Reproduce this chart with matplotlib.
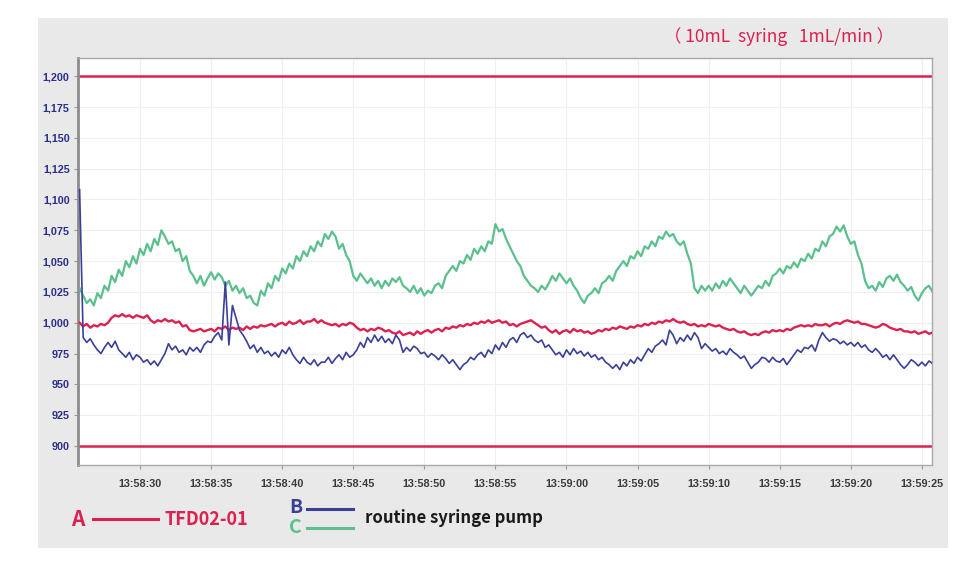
import numpy as np
import matplotlib
matplotlib.use("Agg")
import matplotlib.pyplot as plt
from matplotlib.patches import Rectangle
from matplotlib.ticker import FuncFormatter

# sample clock: seconds after 13:58:00, one reading every 0.25 s
t_start = 25.75
t_step = 0.25

# A - TFD02-01 (red)
flow_a = [1000,
    997, 999, 996, 998,   997, 999, 998, 1000,  1004, 1006, 1005, 1007,  1005, 1006, 1004, 1006,
    1005, 1004, 1006, 1002,  1000, 1002, 1001, 1003,  1001, 1002, 1000, 1001,  997, 998, 994, 993,
    994, 995, 993, 994,   995, 993, 996, 995,   997, 994, 996, 995,   996, 994, 997, 995,
    997, 996, 998, 997,   998, 999, 997, 999,   1000, 998, 1001, 999,  1000, 1002, 999, 1001,
    1001, 1003, 1000, 1002,  1000, 999, 998, 999,  997, 999, 998, 1000,  999, 996, 994, 995,
    993, 995, 994, 996,   995, 993, 994, 992,   991, 993, 990, 991,   992, 990, 993, 991,
    993, 994, 992, 994,   995, 993, 996, 995,   997, 996, 998, 997,   999, 998, 1000, 999,
    1001, 1000, 1002, 1000,  1001, 1002, 1000, 1001,  998, 999, 997, 999,  1000, 1001, 1002, 1000,
    998, 996, 997, 994,   992, 994, 991, 993,   994, 992, 995, 993,   994, 992, 993, 991,
    992, 994, 993, 995,   994, 996, 995, 997,   996, 995, 997, 996,   998, 997, 999, 998,
    1000, 999, 1001, 1000,  1002, 1001, 1003, 1001,  1000, 1001, 999, 998,  999, 997, 998, 997,
    999, 998, 997, 998,   996, 995, 994, 995,   993, 992, 993, 991,   990, 991, 990, 992,
    993, 992, 994, 993,   994, 993, 995, 994,   996, 997, 998, 997,   998, 997, 999, 998,
    998, 999, 997, 999,   1000, 999, 1001, 1002,  1001, 1000, 1001, 999,  999, 998, 997, 996,
    997, 999, 998, 996,   995, 994, 995, 993,   993, 992, 993, 991,   992, 993, 991, 992]

# B - routine syringe pump (blue)
flow_b = [1108,
    988, 984, 987, 982,   978, 975, 980, 984,   980, 985, 978, 975,   972, 976, 970, 974,
    972, 968, 970, 966,   969, 965, 970, 975,   983, 978, 981, 976,   978, 974, 980, 977,
    980, 976, 982, 985,   984, 989, 992, 986,   1033, 982, 1014, 1004,  994, 990, 985, 979,
    982, 976, 980, 975,   977, 973, 976, 972,   978, 975, 980, 974,   970, 967, 972, 968,
    966, 970, 965, 968,   968, 972, 967, 971,   974, 970, 976, 972,   974, 978, 984, 980,
    988, 984, 990, 985,   989, 984, 987, 983,   990, 986, 976, 980,   977, 981, 979, 975,
    976, 972, 975, 973,   970, 974, 971, 967,   970, 966, 962, 966,   968, 972, 970, 974,
    976, 972, 978, 975,   982, 978, 984, 980,   986, 988, 984, 990,   992, 988, 990, 986,
    984, 986, 980, 982,   978, 974, 976, 972,   978, 974, 979, 975,   977, 973, 976, 972,
    974, 970, 972, 968,   966, 963, 966, 962,   968, 965, 970, 967,   972, 969, 974, 979,
    976, 981, 983, 986,   982, 994, 990, 983,   988, 985, 990, 986,   992, 988, 979, 983,
    980, 977, 979, 975,   977, 974, 979, 976,   974, 971, 973, 968,   963, 966, 968, 972,
    971, 968, 972, 969,   968, 971, 966, 970,   974, 978, 976, 980,   979, 982, 977, 986,
    992, 988, 985, 987,   986, 983, 985, 982,   984, 981, 984, 980,   982, 978, 976, 979,
    976, 972, 974, 970,   974, 970, 966, 963,   966, 970, 968, 965,   968, 965, 969, 967]

# C - routine syringe pump (green)
flow_c = [1028,
    1022, 1016, 1019, 1014,  1024, 1020, 1030, 1026,  1038, 1033, 1043, 1038,  1050, 1045, 1054, 1048,
    1060, 1055, 1064, 1058,  1068, 1063, 1075, 1070,  1064, 1066, 1058, 1060,  1050, 1054, 1042, 1038,
    1032, 1038, 1030, 1036,  1041, 1035, 1040, 1037,  1030, 1034, 1026, 1030,  1024, 1028, 1020, 1022,
    1016, 1014, 1026, 1022,  1032, 1028, 1038, 1034,  1044, 1040, 1048, 1044,  1054, 1050, 1058, 1054,
    1062, 1058, 1066, 1062,  1072, 1068, 1074, 1070,  1060, 1064, 1055, 1050,  1038, 1034, 1040, 1036,
    1032, 1036, 1030, 1034,  1028, 1034, 1030, 1036,  1033, 1037, 1030, 1028,  1025, 1030, 1024, 1028,
    1022, 1026, 1024, 1030,  1032, 1028, 1038, 1042,  1046, 1042, 1050, 1048,  1055, 1051, 1060, 1056,
    1062, 1058, 1066, 1064,  1080, 1074, 1076, 1068,  1062, 1056, 1050, 1046,  1038, 1034, 1030, 1028,
    1025, 1030, 1027, 1032,  1038, 1034, 1040, 1036,  1032, 1036, 1030, 1026,  1020, 1016, 1022, 1024,
    1028, 1024, 1032, 1034,  1038, 1034, 1042, 1046,  1050, 1046, 1054, 1052,  1058, 1054, 1062, 1060,
    1066, 1062, 1070, 1068,  1074, 1070, 1072, 1066,  1063, 1066, 1056, 1048,  1028, 1024, 1030, 1026,
    1030, 1026, 1032, 1028,  1034, 1030, 1036, 1032,  1028, 1024, 1030, 1026,  1022, 1026, 1030, 1028,
    1034, 1030, 1038, 1040,  1044, 1040, 1046, 1044,  1049, 1045, 1052, 1050,  1056, 1052, 1060, 1058,
    1066, 1062, 1070, 1072,  1078, 1074, 1079, 1070,  1064, 1066, 1055, 1048,  1034, 1028, 1030, 1026,
    1033, 1029, 1036, 1038,  1034, 1039, 1033, 1030,  1026, 1029, 1022, 1018,  1024, 1028, 1030, 1025]

limit_lines = [1200, 900]
y_ticks = list(range(900, 1201, 25))
x_ticks = list(range(30, 86, 5))

RED = "#dc2150"
BLUE = "#3a3f98"
GREEN = "#5cc08e"

t = t_start + t_step * np.arange(len(flow_a))


def clock(sec, pos=None):
    sec = int(round(sec))
    return "13:%02d:%02d" % (58 + sec // 60, sec % 60)


fig = plt.figure(figsize=(9.78, 5.65), dpi=100)
fig.patch.set_facecolor("white")
# grey panel behind everything
fig.patches.append(Rectangle((0.0389, 0.030), 0.9305, 0.938, transform=fig.transFigure,
                             facecolor="#e9e9e9", edgecolor="none", zorder=-10))

ax = fig.add_axes([0.0798, 0.177, 0.873, 0.720])
ax.set_zorder(1)
ax.set_facecolor("white")

for lim in limit_lines:
    ax.axhline(lim, color=RED, lw=1.8, zorder=2)

ax.plot(t, flow_c, color=GREEN, lw=1.6, zorder=3)
ax.plot(t, flow_a, color=RED, lw=1.7, zorder=4)
ax.plot(t, flow_b, color=BLUE, lw=1.2, zorder=5)

ax.set_xlim(25.64, 85.7)
ax.set_ylim(884.6, 1214.6)
ax.set_xticks(x_ticks)
ax.set_yticks(y_ticks)
ax.xaxis.set_major_formatter(FuncFormatter(clock))
ax.yaxis.set_major_formatter(FuncFormatter(lambda v, p: "{:,.0f}".format(v)))
ax.grid(True, color="#efefef", lw=0.8, zorder=1)

for lab in ax.get_xticklabels():
    lab.set_fontfamily("Liberation Sans")
    lab.set_fontweight("bold")
    lab.set_color("#3a3a3a")
    lab.set_fontsize(7.8)
for lab in ax.get_yticklabels():
    lab.set_fontfamily("Liberation Sans")
    lab.set_fontweight("bold")
    lab.set_color("#2c2f8a")
    lab.set_fontsize(7.8)
ax.tick_params(axis="both", length=3, width=0.8, color="#999999", pad=3)
ax.tick_params(axis="x", pad=7)

for side in ["top", "right", "bottom"]:
    ax.spines[side].set_color("#a8a8a8")
    ax.spines[side].set_linewidth(1.0)
ax.spines["left"].set_color("#8c8c8c")
ax.spines["left"].set_linewidth(2.0)

cjk = ["Noto Sans CJK SC", "DejaVu Sans"]
fig.text(0.797, 0.935, "（ 10mL  syring   1mL/min ）", color=RED, fontsize=12.5,
         family=cjk, ha="center", va="center")

# legend drawn by hand at the bottom
fig.text(0.073, 0.081, "A", color=RED, fontsize=15, family=cjk, weight="semibold",
         ha="left", va="center")
fig.lines.append(plt.Line2D([0.095, 0.162], [0.081, 0.081], transform=fig.transFigure,
                            color=RED, lw=2.2))
fig.text(0.168, 0.081, "TFD02-01", color=RED, fontsize=13, family=cjk, weight="bold",
         ha="left", va="center")

fig.text(0.296, 0.101, "B", color=BLUE, fontsize=14, family=cjk, weight="semibold",
         ha="left", va="center")
fig.lines.append(plt.Line2D([0.314, 0.361], [0.100, 0.100], transform=fig.transFigure,
                            color=BLUE, lw=2.2))
fig.text(0.296, 0.066, "C", color=GREEN, fontsize=14, family=cjk, weight="semibold",
         ha="left", va="center")
fig.lines.append(plt.Line2D([0.314, 0.361], [0.066, 0.066], transform=fig.transFigure,
                            color=GREEN, lw=2.2))
fig.text(0.373, 0.083, "routine syringe pump", color="#1a1a1a", fontsize=12, family=cjk,
         weight="bold", ha="left", va="center")

fig.savefig("out.png", dpi=100, facecolor=fig.get_facecolor())
